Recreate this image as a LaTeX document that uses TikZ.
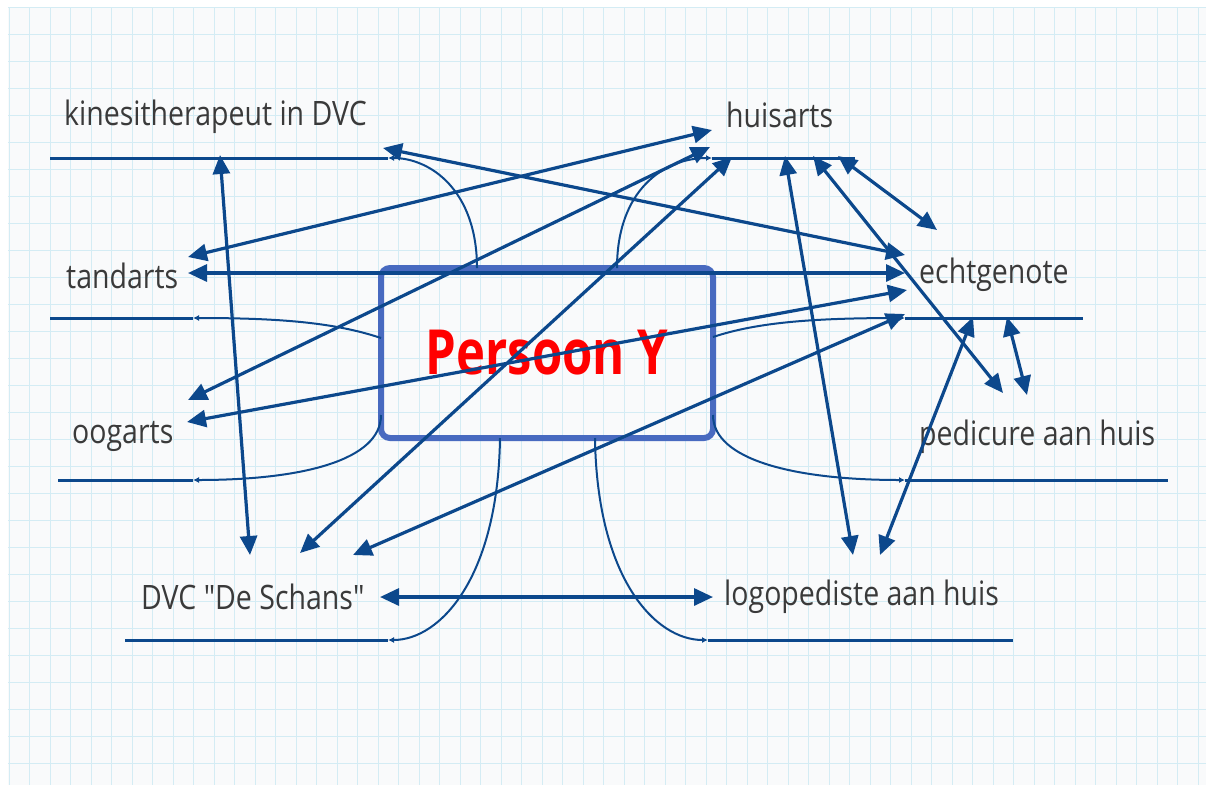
\documentclass[tikz,border=0pt]{standalone}
\usepackage{fontspec}
\setmainfont{Open Sans}[Ligatures=TeXOff]
\usetikzlibrary{arrows.meta,calc}
\definecolor{linec}{RGB}{12,72,140}
\definecolor{boxc}{RGB}{72,106,192}
\definecolor{textc}{RGB}{58,58,58}
\definecolor{gridc}{RGB}{212,236,244}
\definecolor{paperc}{RGB}{249,250,251}
\newcommand{\tall}[2][1.18]{\scalebox{1}[#1]{#2}}

\begin{document}
\begin{tikzpicture}[x=1pt,y=-1pt,
  lbl/.style={anchor=base west,inner sep=0pt,text=textc,font=\fontsize{28.5}{32}\selectfont},
  uline/.style={linec,line width=3pt},
  branch/.style={linec,line width=2pt,-{Latex[length=6pt,width=6pt]}},
  rel/.style={linec,line width=3.2pt,{Triangle[length=19pt,width=17pt]}-{Triangle[length=19pt,width=17pt]}}]
  \useasboundingbox (0,0) rectangle (1212,788);
  \fill[white] (0,0) rectangle (1212,788);
  \fill[paperc] (8,7) rectangle (1206,785);
  \foreach \gx in {9,29.5,...,1206} \draw[gridc,line width=0.8pt] (\gx,7) -- (\gx,785);
  \foreach \gy in {7,34,...,785} \draw[gridc,line width=0.8pt] (8,\gy) -- (1206,\gy);

  \node[draw=boxc,line width=6pt,rounded corners=9pt,outer sep=0pt,inner sep=0pt,
    minimum width=332pt,minimum height=170pt,text=red,
    font=\bfseries\fontsize{49}{55}\selectfont] (persoon) at (547,353) {\tall[1.27]{Persoon Y}};

  \node[lbl] (kine) at (64,125) {\tall{kinesitherapeut in DVC}};
  \node[lbl] (huis) at (726,127) {\tall{huisarts}};
  \node[lbl] (tand) at (66,288) {\tall{tandarts}};
  \node[lbl] (echt) at (919,283) {\tall{echtgenote}};
  \node[lbl] (oog) at (72,443) {\tall{oogarts}};
  \node[lbl] (pedi) at (919,445) {\tall{pedicure aan huis}};
  \node[lbl] (dvc) at (141,609) {\tall{DVC "De Schans"}};
  \node[lbl] (logo) at (724,605) {\tall{logopediste aan huis}};

  \coordinate (kineL) at (50,158);   \coordinate (kineR) at (388,158);
  \coordinate (huisL) at (712,158);  \coordinate (huisR) at (855,158);
  \coordinate (tandL) at (50,318);   \coordinate (tandR) at (193,318);
  \coordinate (oogL) at (58,480);    \coordinate (oogR) at (193,480);
  \coordinate (echtL) at (905,318);  \coordinate (echtR) at (1083,318);
  \coordinate (pediL) at (905,480);  \coordinate (pediR) at (1168,480);
  \coordinate (dvcL) at (125,640);   \coordinate (dvcR) at (388,640);
  \coordinate (logoL) at (708,640);  \coordinate (logoR) at (1013,640);
  \draw[uline] (kineL) -- (kineR);
  \draw[uline] (huisL) -- (huisR);
  \draw[uline] (tandL) -- (tandR);
  \draw[uline] (oogL) -- (oogR);
  \draw[uline] (echtL) -- (echtR);
  \draw[uline] (pediL) -- (pediR);
  \draw[uline] (dvcL) -- (dvcR);
  \draw[uline] (logoL) -- (logoR);

  \draw[branch] ([xshift=-70pt]persoon.north) .. controls +(0,-78) and +(42,0) .. (kineR);
  \draw[branch] ([xshift=70pt]persoon.north) .. controls +(0,-78) and +(-48,0) .. (huisL);
  \draw[branch] ([yshift=15pt]persoon.west) .. controls +(-45,-15) and +(90,0) .. (tandR);
  \draw[branch] ([yshift=-62pt]persoon.west) .. controls +(0,45) and +(110,0) .. (oogR);
  \draw[branch] ([yshift=16pt]persoon.east) .. controls +(45,-15) and +(-90,0) .. (echtL);
  \draw[branch] ([yshift=-62pt]persoon.east) .. controls +(0,45) and +(-110,0) .. (pediL);
  \draw[branch] ([xshift=-47pt]persoon.south) .. controls +(-2,140) and +(52,0) .. (dvcR);
  \draw[branch] ([xshift=48pt]persoon.south) .. controls +(2,140) and +(-53,0) .. (logoL);

  \coordinate (kDvc) at (220,155);   \coordinate (kEcht) at (383,148);
  \coordinate (hTand) at (712,130);  \coordinate (hOog) at (710,147);
  \coordinate (hDvc) at (732,157);   \coordinate (hLogo) at (785,156);
  \coordinate (hPedi) at (813,156);  \coordinate (hEcht) at (838,156);
  \coordinate (tHuis) at (188,257);  \coordinate (tEcht) at (188,273);
  \coordinate (eKine) at (905,255);  \coordinate (eTand) at (905,273);
  \coordinate (eOog) at (907,290);   \coordinate (eDvc) at (905,314);
  \coordinate (eHuis) at (937,230);  \coordinate (eLogo) at (973,317);
  \coordinate (ePedi) at (1007,317);
  \coordinate (oHuis) at (188,400);  \coordinate (oEcht) at (187,422);
  \coordinate (pHuis) at (1003,393); \coordinate (pEcht) at (1027,395);
  \coordinate (dKine) at (250,555);  \coordinate (dHuis) at (300,553);
  \coordinate (dEcht) at (353,555);  \coordinate (dLogo) at (380,597);
  \coordinate (lDvc) at (713,597);   \coordinate (lHuis) at (853,555);
  \coordinate (lEcht) at (880,555);
  \draw[rel] (kDvc) -- (dKine);
  \draw[rel] (kEcht) -- (eKine);
  \draw[rel] (hTand) -- (tHuis);
  \draw[rel] (hOog) -- (oHuis);
  \draw[rel] (hDvc) -- (dHuis);
  \draw[rel] (hLogo) -- (lHuis);
  \draw[rel] (hPedi) -- (pHuis);
  \draw[rel] (hEcht) -- (eHuis);
  \draw[rel] (tEcht) -- (eTand);
  \draw[rel] (eOog) -- (oEcht);
  \draw[rel] (eDvc) -- (dEcht);
  \draw[rel] (eLogo) -- (lEcht);
  \draw[rel] (ePedi) -- (pEcht);
  \draw[rel] (dLogo) -- (lDvc);
\end{tikzpicture}
\end{document}
